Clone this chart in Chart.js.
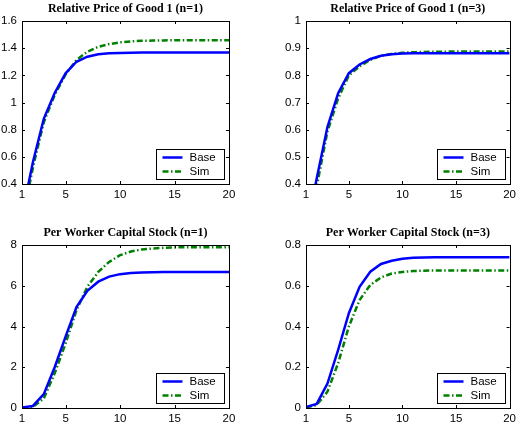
<!DOCTYPE html>
<html>
<head>
<meta charset="utf-8">
<script src="https://cdn.jsdelivr.net/npm/chart.js@4.4.1/dist/chart.umd.min.js"></script>
<style>
html, body { margin: 0; padding: 0; background: #fff; }
#wrap { position: relative; width: 520px; height: 432px; background: #fff; }
canvas { position: absolute; }
</style>
</head>
<body>
<div id="wrap">
  <canvas id="c1" width="260" height="216" style="left:0px;top:0px"></canvas>
  <canvas id="c2" width="260" height="216" style="left:260px;top:0px"></canvas>
  <canvas id="c3" width="260" height="216" style="left:0px;top:216px"></canvas>
  <canvas id="c4" width="260" height="216" style="left:260px;top:216px"></canvas>
</div>
<script>
// periods on the horizontal axis
const periods = [1, 2, 3, 4, 5, 6, 7, 8, 9, 10, 11, 12, 13, 14, 15, 16, 17, 18, 19, 20];
const xTicks = [1, 5, 10, 15, 20];

// relative price of good 1
const priceBaseN1 = [0.17, 0.56, 0.88, 1.07, 1.215, 1.30, 1.337, 1.355, 1.362, 1.365, 1.367, 1.368, 1.368, 1.368, 1.368, 1.368, 1.368, 1.368, 1.368, 1.368];
const priceSimN1 = [0.12, 0.52, 0.855, 1.055, 1.207, 1.313, 1.374, 1.41, 1.43, 1.443, 1.45, 1.454, 1.456, 1.457, 1.458, 1.458, 1.458, 1.458, 1.458, 1.458];
const priceBaseN3 = [0.23, 0.42, 0.61, 0.734, 0.808, 0.84, 0.86, 0.872, 0.878, 0.88, 0.881, 0.881, 0.881, 0.881, 0.881, 0.881, 0.881, 0.881, 0.881, 0.881];
const priceSimN3 = [0.2, 0.39, 0.593, 0.715, 0.80, 0.833, 0.857, 0.872, 0.879, 0.883, 0.885, 0.886, 0.887, 0.887, 0.888, 0.888, 0.888, 0.888, 0.888, 0.888];

// per worker capital stock
const capBaseN1 = [0.03, 0.1, 0.68, 2.0, 3.5, 4.95, 5.75, 6.2, 6.45, 6.57, 6.62, 6.65, 6.66, 6.67, 6.67, 6.67, 6.67, 6.67, 6.67, 6.67];
const capSimN1 = [0.01, 0.05, 0.47, 1.7, 3.17, 4.8, 5.95, 6.68, 7.17, 7.5, 7.68, 7.78, 7.83, 7.86, 7.88, 7.89, 7.89, 7.89, 7.89, 7.89];
const capBaseN3 = [0.005, 0.02, 0.12, 0.285, 0.465, 0.595, 0.669, 0.707, 0.723, 0.733, 0.737, 0.739, 0.74, 0.74, 0.74, 0.74, 0.74, 0.74, 0.74, 0.74];
const capSimN3 = [0.002, 0.015, 0.08, 0.22, 0.40, 0.53, 0.604, 0.641, 0.66, 0.668, 0.672, 0.674, 0.675, 0.675, 0.675, 0.675, 0.675, 0.675, 0.675, 0.675];

// y tick labels
const yTicksPriceN1 = [0.4, 0.6, 0.8, 1, 1.2, 1.4, 1.6];
const yTicksPriceN3 = [0.4, 0.5, 0.6, 0.7, 0.8, 0.9, 1];
const yTicksCapN1 = [0, 2, 4, 6, 8];
const yTicksCapN3 = [0, 0.2, 0.4, 0.6, 0.8];

const seriesNames = ['Base', 'Sim'];

const sansFont = 'Liberation Sans, Arial, sans-serif';

// box around the axes plus small inward tick marks (matlab look)
const axesBox = {
    id: 'axesBox',
    afterDatasetsDraw(chart) {
        const a = chart.chartArea;
        const ctx = chart.ctx;
        const xs = chart.scales.x, ys = chart.scales.y;
        ctx.save();
        ctx.strokeStyle = '#000';
        ctx.lineWidth = 1;
        ctx.beginPath();
        xs.ticks.forEach(t => {
            const px = Math.round(xs.getPixelForValue(t.value)) + 0.5;
            ctx.moveTo(px, a.bottom); ctx.lineTo(px, a.bottom - 3);
            ctx.moveTo(px, a.top); ctx.lineTo(px, a.top + 3);
        });
        ys.ticks.forEach(t => {
            const py = Math.round(ys.getPixelForValue(t.value)) + 0.5;
            ctx.moveTo(a.left, py); ctx.lineTo(a.left + 3, py);
            ctx.moveTo(a.right, py); ctx.lineTo(a.right - 3, py);
        });
        ctx.stroke();
        ctx.strokeRect(Math.round(a.left) + 0.5, Math.round(a.top) + 0.5,
            Math.round(a.right - a.left), Math.round(a.bottom - a.top));
        ctx.restore();
    }
};

// legend drawn inside the plot, bottom right corner
const legendBox = {
    id: 'legendBox',
    afterDraw(chart) {
        const a = chart.chartArea;
        const ctx = chart.ctx;
        const w = 68, h = 30;
        const x0 = Math.round(a.right - 5 - w) + 0.5;
        const y0 = Math.round(a.bottom - 5 - h) + 0.5;
        ctx.save();
        ctx.fillStyle = '#fff';
        ctx.fillRect(x0, y0, w, h);
        ctx.strokeStyle = '#000';
        ctx.lineWidth = 1;
        ctx.strokeRect(x0, y0, w, h);
        ctx.font = '11.5px ' + sansFont;
        ctx.textBaseline = 'middle';
        chart.data.datasets.forEach((ds, i) => {
            const y = y0 + 8 + i * 14;
            ctx.strokeStyle = ds.borderColor;
            ctx.lineWidth = ds.borderWidth;
            ctx.setLineDash(ds.borderDash || []);
            ctx.beginPath();
            ctx.moveTo(x0 + 6, y);
            ctx.lineTo(x0 + 26, y);
            ctx.stroke();
            ctx.setLineDash([]);
            ctx.fillStyle = '#000';
            ctx.fillText(ds.label, x0 + 33, y);
        });
        ctx.restore();
    }
};

function toPoints(values) {
    return periods.map((p, i) => ({ x: p, y: values[i] }));
}

function makeChart(id, title, base, sim, yTicks, padding, titlePad) {
    const ctx = document.getElementById(id).getContext('2d');
    return new Chart(ctx, {
        type: 'line',
        data: {
            datasets: [{
                label: seriesNames[0],
                data: toPoints(base),
                borderColor: '#0000ff',
                borderWidth: 2.5,
                pointRadius: 0,
                tension: 0,
                fill: false
            }, {
                label: seriesNames[1],
                data: toPoints(sim),
                borderColor: '#008000',
                borderWidth: 2.5,
                borderDash: [6, 2.5, 1.5, 2.5],
                pointRadius: 0,
                tension: 0,
                fill: false
            }]
        },
        options: {
            responsive: false,
            animation: false,
            devicePixelRatio: 1,
            layout: { padding: padding },
            scales: {
                x: {
                    type: 'linear',
                    min: periods[0],
                    max: periods[periods.length - 1],
                    afterBuildTicks: s => { s.ticks = xTicks.map(v => ({ value: v })); },
                    afterFit: s => { s.height = 20; },
                    grid: { display: false, drawTicks: false },
                    border: { display: false },
                    ticks: {
                        autoSkip: false,
                        maxRotation: 0,
                        padding: 4,
                        color: '#000',
                        font: { family: sansFont, size: 11.5 }
                    }
                },
                y: {
                    min: yTicks[0],
                    max: yTicks[yTicks.length - 1],
                    afterBuildTicks: s => { s.ticks = yTicks.map(v => ({ value: v })); },
                    afterFit: s => { s.width = 22; },
                    grid: { display: false, drawTicks: false },
                    border: { display: false },
                    ticks: {
                        padding: 5,
                        color: '#000',
                        font: { family: sansFont, size: 11.5 },
                        callback: v => String(+v.toFixed(2))
                    }
                }
            },
            plugins: {
                legend: { display: false },
                tooltip: { enabled: false },
                title: {
                    display: true,
                    text: title,
                    fullSize: false,
                    color: '#000',
                    font: { family: 'Liberation Serif, Times New Roman, serif', size: 12, weight: 'bold' },
                    padding: titlePad
                }
            }
        },
        plugins: [axesBox, legendBox]
    });
}

window.onload = function() {
    makeChart('c1', 'Relative Price of Good 1 (n=1)', priceBaseN1, priceSimN1, yTicksPriceN1,
        { left: 0, right: 31, top: 0, bottom: 12 }, { top: 2, bottom: 4.6 });
    makeChart('c2', 'Relative Price of Good 1 (n=3)', priceBaseN3, priceSimN3, yTicksPriceN3,
        { left: 24, right: 7, top: 0, bottom: 12 }, { top: 2, bottom: 4.6 });
    makeChart('c3', 'Per Worker Capital Stock (n=1)', capBaseN1, capSimN1, yTicksCapN1,
        { left: 0, right: 31, top: 8, bottom: 4 }, { top: 2, bottom: 4.6 });
    makeChart('c4', 'Per Worker Capital Stock (n=3)', capBaseN3, capSimN3, yTicksCapN3,
        { left: 24, right: 7, top: 8, bottom: 4 }, { top: 2, bottom: 4.6 });
};
</script>
</body>
</html>
